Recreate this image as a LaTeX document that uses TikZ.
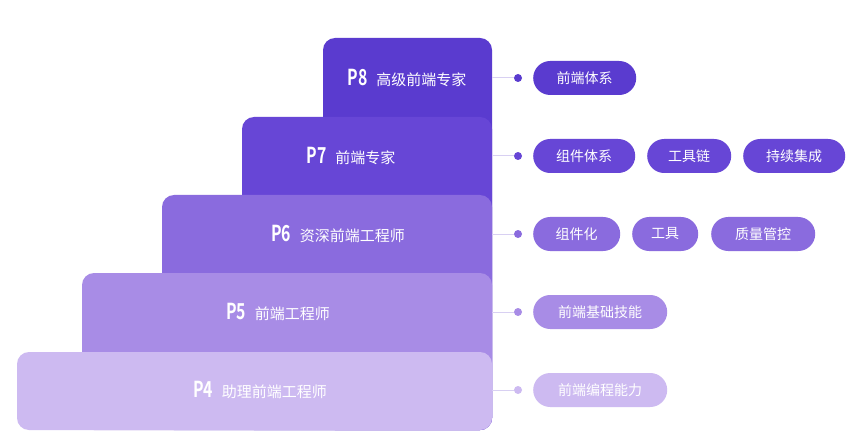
\documentclass[tikz,border=0pt]{standalone}
\usepackage{fontspec}
\newfontfamily\cjk{Noto Sans CJK SC}
\newfontfamily\cjkb{Noto Sans CJK SC Bold}
\usepackage{graphicx}
\definecolor{c8}{HTML}{5A3BCF}
\definecolor{c7}{HTML}{6746D6}
\definecolor{c6}{HTML}{8A6BDE}
\definecolor{c5}{HTML}{A88CE6}
\definecolor{c4}{HTML}{CDBAF1}
\definecolor{ln}{HTML}{D8D0F2}
\tikzset{
 stepbox/.style={rounded corners=12pt, draw=none},
 steplbl/.style={text=white, inner sep=0pt},
 pill/.style={rounded corners=17pt, minimum height=34pt, text=white, font=\cjk\fontsize{14}{14}\selectfont, inner xsep=0pt, anchor=west},
 dotn/.style={circle, inner sep=0pt, minimum size=8pt},
}
\newcommand{\plbl}[2]{{\cjkb\fontsize{22}{22}\selectfont\scalebox{0.72}[1]{#1}}\hspace{9pt}{\cjk\fontsize{15}{15}\selectfont #2}}
\begin{document}
\begin{tikzpicture}[x=1pt,y=-1pt]
\useasboundingbox[fill=white] (0,0) rectangle (850,446);
\fill[c8,stepbox] (323,38) rectangle (492,430);
\fill[c7,stepbox] (242,117) rectangle (492,430);
\fill[c6,stepbox] (162,195) rectangle (492,430);
\fill[c5,stepbox] (82,273) rectangle (492,430);
\fill[c4,stepbox] (17,352) rectangle (492,430);
\node[steplbl] (s8) at (407,78) {\plbl{P8}{高级前端专家}};
\node[steplbl] (s7) at (351,156) {\plbl{P7}{前端专家}};
\node[steplbl] (s6) at (338,234) {\plbl{P6}{资深前端工程师}};
\node[steplbl] (s5) at (278,312) {\plbl{P5}{前端工程师}};
\node[steplbl] (s4) at (260,390) {\plbl{P4}{助理前端工程师}};
\foreach \y/\c/\n in {78/c8/8,156/c7/7,234/c6/6,312/c5/5,390/c4/4}{
  \coordinate (e\n) at (492,\y);
  \node[dotn,fill=\c] (d\n) at (518,\y) {};
  \draw[ln,line width=1pt] (e\n) -- (d\n);
}
\node[pill,fill=c8,minimum width=103pt] (a1) at (533,78) {前端体系};
\node[pill,fill=c7,minimum width=102pt] (b1) at (533,156) {组件体系};
\node[pill,fill=c7,minimum width=84pt] (b2) at (647,156) {工具链};
\node[pill,fill=c7,minimum width=102pt] (b3) at (743,156) {持续集成};
\node[pill,fill=c6,minimum width=87pt] (c1) at (533,234) {组件化};
\node[pill,fill=c6,minimum width=66pt] (c2) at (632,234) {工具};
\node[pill,fill=c6,minimum width=104pt] (c3) at (711,234) {质量管控};
\node[pill,fill=c5,minimum width=134pt] (f1) at (533,312) {前端基础技能};
\node[pill,fill=c4,minimum width=134pt] (g1) at (533,390) {前端编程能力};
\end{tikzpicture}
\end{document}
